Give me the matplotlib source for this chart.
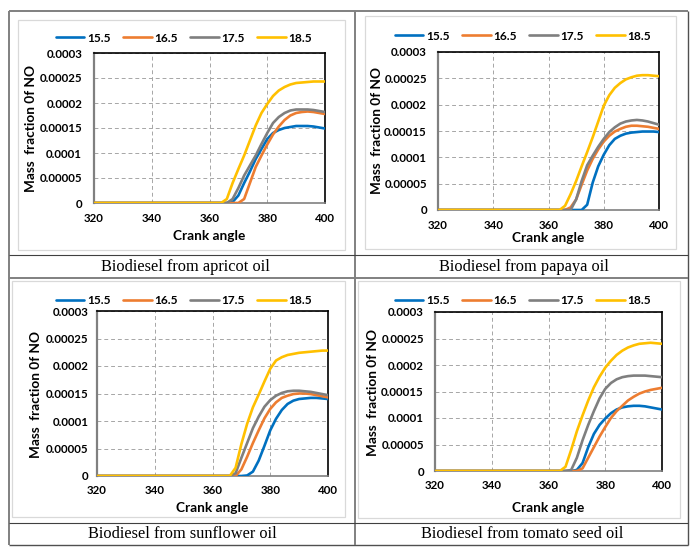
import matplotlib
matplotlib.use("Agg")
import matplotlib.pyplot as plt
from matplotlib.lines import Line2D
from matplotlib.patches import Rectangle
import numpy as np

plt.rcParams['font.family'] = ['Lato', 'DejaVu Sans']

# ---------------- data ----------------
crank_angle = [320, 362, 364, 366, 368, 370, 372, 374, 376, 378, 380,
               382, 384, 386, 388, 390, 392, 394, 396, 398, 400]
series_labels = ['15.5', '16.5', '17.5', '18.5']
value_unit = 1e-5  # values below are given in units of 1e-5

apricot_155 = [0, 0, 0, 0, 0.2, 1.5, 4.0, 6.3, 8.8, 10.8, 12.8, 14.0, 14.6, 15.0, 15.2, 15.4, 15.4, 15.4, 15.3, 15.1, 14.9]
apricot_165 = [0, 0, 0, 0, 0, 0, 0.8, 4.0, 7.2, 9.5, 11.7, 13.7, 15.3, 16.6, 17.5, 18.0, 18.2, 18.3, 18.2, 18.0, 17.8]
apricot_175 = [0, 0, 0, 0, 0.8, 3.0, 5.5, 7.5, 9.5, 11.8, 14.0, 16.0, 17.2, 18.0, 18.5, 18.7, 18.7, 18.7, 18.6, 18.4, 18.2]
apricot_185 = [0, 0, 0, 0.8, 4.0, 6.8, 9.5, 12.5, 15.5, 18.0, 19.8, 21.4, 22.5, 23.2, 23.7, 24.0, 24.1, 24.2, 24.3, 24.3, 24.3]

papaya_155 = [0, 0, 0, 0, 0, 0, 0, 1.0, 5.2, 8.3, 10.5, 12.3, 13.5, 14.1, 14.5, 14.7, 14.8, 14.9, 14.9, 14.9, 14.8]
papaya_165 = [0, 0, 0, 0, 0.5, 2.0, 4.8, 7.5, 9.7, 11.5, 13.0, 14.1, 14.9, 15.4, 15.8, 16.0, 16.0, 15.9, 15.8, 15.6, 15.4]
papaya_175 = [0, 0, 0, 0, 0, 2.0, 5.5, 8.5, 10.3, 12.0, 13.5, 14.8, 15.7, 16.4, 16.8, 17.0, 17.1, 17.0, 16.8, 16.5, 16.2]
papaya_185 = [0, 0, 0, 0.8, 3.0, 5.5, 8.3, 11.0, 13.8, 16.8, 19.8, 21.8, 23.2, 24.1, 24.8, 25.2, 25.5, 25.6, 25.6, 25.5, 25.4]

sunflower_155 = [0, 0, 0, 0, 0, 0, 0.1, 0.8, 2.8, 5.5, 8.3, 10.4, 12.0, 13.1, 13.7, 14.0, 14.1, 14.2, 14.2, 14.1, 14.0]
sunflower_165 = [0, 0, 0, 0, 0, 1.2, 3.5, 6.0, 8.3, 10.5, 12.2, 13.4, 14.2, 14.6, 14.9, 15.0, 15.0, 14.9, 14.7, 14.5, 14.3]
sunflower_175 = [0, 0, 0, 0, 0.5, 3.3, 6.0, 8.7, 10.8, 12.6, 13.8, 14.6, 15.1, 15.4, 15.5, 15.5, 15.4, 15.3, 15.1, 14.9, 14.7]
sunflower_185 = [0, 0, 0, 0, 1.5, 5.8, 9.5, 12.5, 14.8, 17.2, 19.5, 21.0, 21.6, 22.0, 22.2, 22.4, 22.5, 22.6, 22.7, 22.8, 22.8]

tomato_155 = [0, 0, 0, 0, 0, 0.2, 1.5, 4.5, 7.0, 8.7, 9.9, 10.9, 11.6, 12.0, 12.2, 12.3, 12.3, 12.2, 12.0, 11.8, 11.6]
tomato_165 = [0, 0, 0, 0, 0, 0, 0.5, 2.5, 4.5, 6.5, 8.3, 10.0, 11.3, 12.3, 13.3, 14.0, 14.6, 15.0, 15.3, 15.5, 15.7]
tomato_175 = [0, 0, 0, 0, 0.2, 2.5, 5.8, 8.7, 11.3, 13.7, 15.5, 16.6, 17.3, 17.7, 17.9, 18.0, 18.0, 18.0, 17.9, 17.8, 17.7]
tomato_185 = [0, 0, 0, 0.8, 4.0, 7.5, 10.5, 13.3, 15.8, 17.8, 19.5, 20.8, 21.9, 22.7, 23.3, 23.7, 24.0, 24.1, 24.2, 24.1, 24.0]

x_ticks = [320, 340, 360, 380, 400]
y_ticks = [0, 0.00005, 0.0001, 0.00015, 0.0002, 0.00025, 0.0003]
y_tick_labels = ['0', '0.00005', '0.0001', '0.00015', '0.0002', '0.00025', '0.0003']
x_label = 'Crank angle'
y_label = 'Mass  fraction 0f NO'
captions = ['Biodiesel from apricot oil', 'Biodiesel from papaya oil',
            'Biodiesel from sunflower oil', 'Biodiesel from tomato seed oil']
panel_series = [
    [apricot_155, apricot_165, apricot_175, apricot_185],
    [papaya_155, papaya_165, papaya_175, papaya_185],
    [sunflower_155, sunflower_165, sunflower_175, sunflower_185],
    [tomato_155, tomato_165, tomato_175, tomato_185],
]

# ---------------- styling / layout ----------------
colors = ['#0070C0', '#ED7D31', '#7F7F7F', '#FFC000']
W, H = 700, 555
fig = plt.figure(figsize=(W / 100, H / 100), dpi=100)
fig.patch.set_facecolor('white')


def fx(x):
    return x / W


def fy(y):
    return 1 - y / H


def rect(l, t, r, b):
    return [l / W, 1 - b / H, (r - l) / W, (b - t) / H]


layout = [
    dict(plot=(94, 53, 325, 203), box=(18, 20, 345, 250), leg=(184, 38),
         xlab=(209, 236), ylab=(31, 128), xpad=7.5, ypad=8.5, cap=(185, 267)),
    dict(plot=(438, 52, 659, 210), box=(365, 16, 676, 249), leg=(523, 36),
         xlab=(548, 238), ylab=(377, 131), xpad=7.5, ypad=8, cap=(524, 267)),
    dict(plot=(97, 311, 328, 476), box=(12, 281, 345, 517), leg=(184, 301),
         xlab=(212, 508), ylab=(36, 395), xpad=6.5, ypad=6, cap=(182, 534)),
    dict(plot=(435, 312, 662, 471), box=(358, 281, 680, 518), leg=(523, 301),
         xlab=(548, 508), ylab=(373, 393), xpad=6.5, ypad=8, cap=(522, 534)),
]

# chart-area boxes
for lay in layout:
    l, t, r, b = lay['box']
    fig.add_artist(Rectangle((fx(l), fy(b)), (r - l) / W, (b - t) / H,
                             transform=fig.transFigure, fill=False,
                             edgecolor='#D9D9D9', linewidth=0.9))

for lay, series, cap in zip(layout, panel_series, captions):
    ax = fig.add_axes(rect(*lay['plot']))
    x = np.array(crank_angle)
    for vals, c, lab in zip(series, colors, series_labels):
        ax.plot(x, np.array(vals) * value_unit, color=c, lw=1.9, label=lab,
                solid_joinstyle='round', solid_capstyle='round', zorder=3)
    ax.set_xlim(320, 400)
    ax.set_ylim(0, 0.0003)
    ax.set_xticks(x_ticks)
    ax.set_xticklabels([str(v) for v in x_ticks])
    ax.set_yticks(y_ticks)
    ax.set_yticklabels(y_tick_labels)
    ax.tick_params(axis='both', length=0, labelsize=8.3)
    ax.tick_params(axis='x', pad=lay['xpad'])
    ax.tick_params(axis='y', pad=lay['ypad'])
    for lbl in ax.get_xticklabels() + ax.get_yticklabels():
        lbl.set_fontweight('bold')
    ax.grid(True, color='#A6A6A6', linestyle=(0, (4, 3)), linewidth=0.7, zorder=0)
    ax.set_axisbelow(True)
    ax.spines['top'].set_color('black')
    ax.spines['right'].set_color('black')
    ax.spines['top'].set_linewidth(1.2)
    ax.spines['right'].set_linewidth(1.2)
    ax.spines['left'].set_color('#808080')
    ax.spines['left'].set_linewidth(1.6)
    ax.spines['bottom'].set_color('#808080')
    ax.spines['bottom'].set_linewidth(1.2)

    ax.set_xlabel(x_label, fontsize=9.8, fontweight='bold')
    ax.xaxis.label.set_va('center')
    ax.xaxis.set_label_coords(fx(lay['xlab'][0]), fy(lay['xlab'][1]),
                              transform=fig.transFigure)
    ax.set_ylabel(y_label, fontsize=9.8, fontweight='bold')
    ax.yaxis.label.set_va('center')
    ax.yaxis.label.set_ha('center')
    ax.yaxis.set_label_coords(fx(lay['ylab'][0]), fy(lay['ylab'][1]),
                              transform=fig.transFigure)

    ax.legend(loc='center', bbox_to_anchor=(fx(lay['leg'][0]), fy(lay['leg'][1])),
              bbox_transform=fig.transFigure, ncol=4, frameon=False,
              handlelength=2.4, handletextpad=0.25, columnspacing=1.0,
              borderaxespad=0, borderpad=0,
              prop=dict(weight='bold', size=8.6))

    fig.text(fx(lay['cap'][0]), fy(lay['cap'][1]), cap, ha='center', va='center',
             fontsize=11.8, family=['Liberation Serif', 'DejaVu Serif'])


# ---------------- table lines ----------------
def hline(y, x0, x1, color, lw):
    fig.add_artist(Line2D([fx(x0), fx(x1)], [fy(y), fy(y)], transform=fig.transFigure,
                          color=color, linewidth=lw, solid_capstyle='butt'))


def vline(x, y0, y1, color, lw):
    fig.add_artist(Line2D([fx(x), fx(x)], [fy(y0), fy(y1)], transform=fig.transFigure,
                          color=color, linewidth=lw, solid_capstyle='butt'))


hline(11, 9, 688, '#808080', 1.4)
hline(545, 9, 688, '#505050', 1.0)
vline(9, 11, 545, '#808080', 1.4)
vline(688, 11, 545, '#505050', 1.0)
vline(355, 11, 545, '#808080', 1.4)
hline(255, 9, 688, '#404040', 0.8)
hline(278, 9, 688, '#808080', 1.4)
hline(523, 9, 688, '#404040', 0.8)

fig.savefig('out.png', dpi=100)
